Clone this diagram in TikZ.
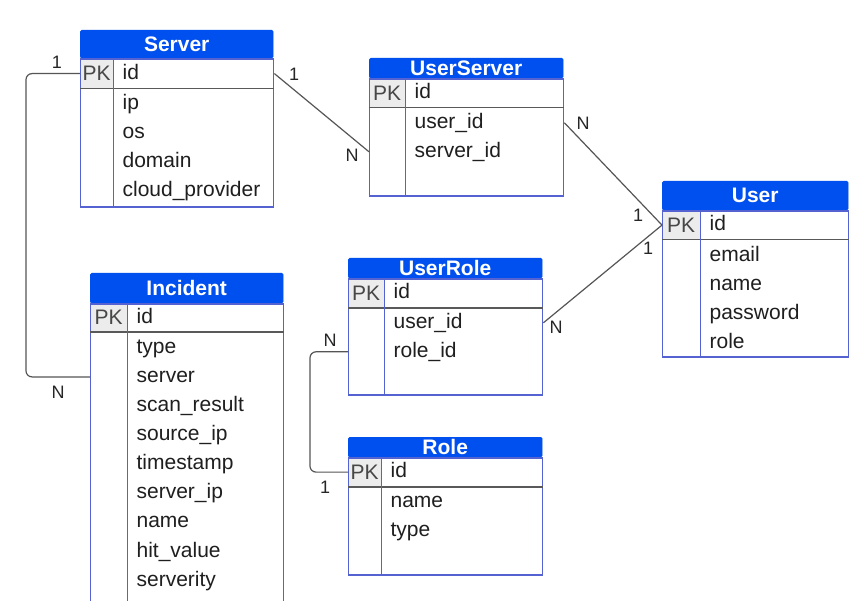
\documentclass[tikz,border=0pt]{standalone}
\usepackage{fontspec}
\setmainfont{Liberation Sans}
\usepackage{tikz}
\usetikzlibrary{positioning, calc}
\definecolor{headblue}{RGB}{0, 80, 239}
\definecolor{edgeblue}{RGB}{84, 98, 210}
\definecolor{pkgray}{RGB}{236, 236, 236}
\definecolor{linkgray}{RGB}{85, 85, 85}

\begin{document}
\begin{tikzpicture}[x=1pt, y=-1pt,
  every node/.style={font=\fontsize{21}{25}\selectfont, inner sep=0pt, text=black!88},
  tblhead/.style={anchor=north west, fill=headblue, draw=headblue, text=white, font=\fontsize{21}{25}\selectfont\bfseries, rounded corners=1.5pt},
  tblbody/.style={anchor=north west, draw=edgeblue, line width=1.4pt},
  pkcell/.style={anchor=north west, fill=pkgray, text=black!72},
  field/.style={anchor=west, text height=15, text depth=4},
  sepline/.style={draw=black!65, line width=1.4pt},
  divline/.style={draw=edgeblue, line width=1.4pt},
  link/.style={draw=linkgray, line width=1.2pt, rounded corners=6pt},
  card/.style={font=\fontsize{18}{22}\selectfont, text=black!85}]

\fill[white] (0,0) rectangle (850,601);
\clip (0,0) rectangle (850,601);

% Server
\node[tblhead, minimum width=193, minimum height=28] (srvHead) at (80,30) {Server};
\node[pkcell, minimum width=33, minimum height=30] (srvPK) at (srvHead.south west) {PK};
\node[tblbody, minimum width=193, minimum height=148] (srvBody) at (srvHead.south west) {};
\node[field] (srvId) at ([xshift=9]srvPK.east) {id};
\draw[sepline] (srvPK.south west) -- (srvPK.south -| srvBody.east);
\draw[divline] (srvPK.north east) -- (srvPK.east |- srvBody.south);
\foreach \f [count=\i] in {ip, os, domain, cloud\_provider}
  \node[field] (srvF\i) at ([xshift=9, yshift=-15-29*(\i-1)]srvPK.south east) {\f};

% UserServer
\node[tblhead, minimum width=194, minimum height=20] (usHead) at (369,58) {UserServer};
\node[pkcell, minimum width=36, minimum height=29] (usPK) at (usHead.south west) {PK};
\node[tblbody, minimum width=194, minimum height=117] (usBody) at (usHead.south west) {};
\node[field] (usId) at ([xshift=9]usPK.east) {id};
\draw[sepline] (usPK.south west) -- (usPK.south -| usBody.east);
\draw[divline] (usPK.north east) -- (usPK.east |- usBody.south);
\foreach \f [count=\i] in {user\_id, server\_id}
  \node[field] (usF\i) at ([xshift=9, yshift=-15-29*(\i-1)]usPK.south east) {\f};

% User
\node[tblhead, minimum width=186, minimum height=29] (usrHead) at (662,181) {User};
\node[pkcell, minimum width=38, minimum height=29] (usrPK) at (usrHead.south west) {PK};
\node[tblbody, minimum width=186, minimum height=146] (usrBody) at (usrHead.south west) {};
\node[field] (usrId) at ([xshift=9]usrPK.east) {id};
\draw[sepline] (usrPK.south west) -- (usrPK.south -| usrBody.east);
\draw[divline] (usrPK.north east) -- (usrPK.east |- usrBody.south);
\foreach \f [count=\i] in {email, name, password, role}
  \node[field] (usrF\i) at ([xshift=9, yshift=-16-29*(\i-1)]usrPK.south east) {\f};

% Incident
\node[tblhead, minimum width=193, minimum height=30] (incHead) at (90,273) {Incident};
\node[pkcell, minimum width=37, minimum height=28] (incPK) at (incHead.south west) {PK};
\node[tblbody, minimum width=193, minimum height=330] (incBody) at (incHead.south west) {};
\node[field] (incId) at ([xshift=9]incPK.east) {id};
\draw[sepline] (incPK.south west) -- (incPK.south -| incBody.east);
\draw[divline] (incPK.north east) -- (incPK.east |- incBody.south);
\foreach \f [count=\i] in {type, server, scan\_result, source\_ip, timestamp, server\_ip, name, hit\_value, serverity}
  \node[field] (incF\i) at ([xshift=9, yshift=-16-29.1*(\i-1)]incPK.south east) {\f};

% UserRole
\node[tblhead, minimum width=194, minimum height=20] (urHead) at (348,258) {UserRole};
\node[pkcell, minimum width=36, minimum height=29] (urPK) at (urHead.south west) {PK};
\node[tblbody, minimum width=194, minimum height=116] (urBody) at (urHead.south west) {};
\node[field] (urId) at ([xshift=9]urPK.east) {id};
\draw[sepline] (urPK.south west) -- (urPK.south -| urBody.east);
\draw[divline] (urPK.north east) -- (urPK.east |- urBody.south);
\foreach \f [count=\i] in {user\_id, role\_id}
  \node[field] (urF\i) at ([xshift=9, yshift=-15-29*(\i-1)]urPK.south east) {\f};

% Role
\node[tblhead, minimum width=194, minimum height=20] (roleHead) at (348,437) {Role};
\node[pkcell, minimum width=33, minimum height=29] (rolePK) at (roleHead.south west) {PK};
\node[tblbody, minimum width=194, minimum height=117] (roleBody) at (roleHead.south west) {};
\node[field] (roleId) at ([xshift=9]rolePK.east) {id};
\draw[sepline] (rolePK.south west) -- (rolePK.south -| roleBody.east);
\draw[divline] (rolePK.north east) -- (rolePK.east |- roleBody.south);
\foreach \f [count=\i] in {name, type}
  \node[field] (roleF\i) at ([xshift=9, yshift=-15-29*(\i-1)]rolePK.south east) {\f};

% Relations
\draw[link] (srvPK.west) -- ++(-54,0) |- (incBody.west |- incF2);
\draw[link] (srvBody.east |- srvPK) -- (usBody.west |- usF2);
\draw[link] (usBody.east |- usF1) -- (usrPK.west);
\draw[link] (urBody.east |- urF1) -- (usrPK.west);
\draw[link] (urBody.west |- urF2) -- ++(-38,0) |- (rolePK.west);

% Cardinalities
\node[card] (c1) at (57,62) {1};
\node[card] (c2) at (58,392) {N};
\node[card] (c3) at (294,74) {1};
\node[card] (c4) at (352,155) {N};
\node[card] (c5) at (583,123) {N};
\node[card] (c6) at (638,215) {1};
\node[card] (c7) at (556,327) {N};
\node[card] (c8) at (648,248) {1};
\node[card] (c9) at (330,340) {N};
\node[card] (c10) at (325,487) {1};
\end{tikzpicture}
\end{document}
